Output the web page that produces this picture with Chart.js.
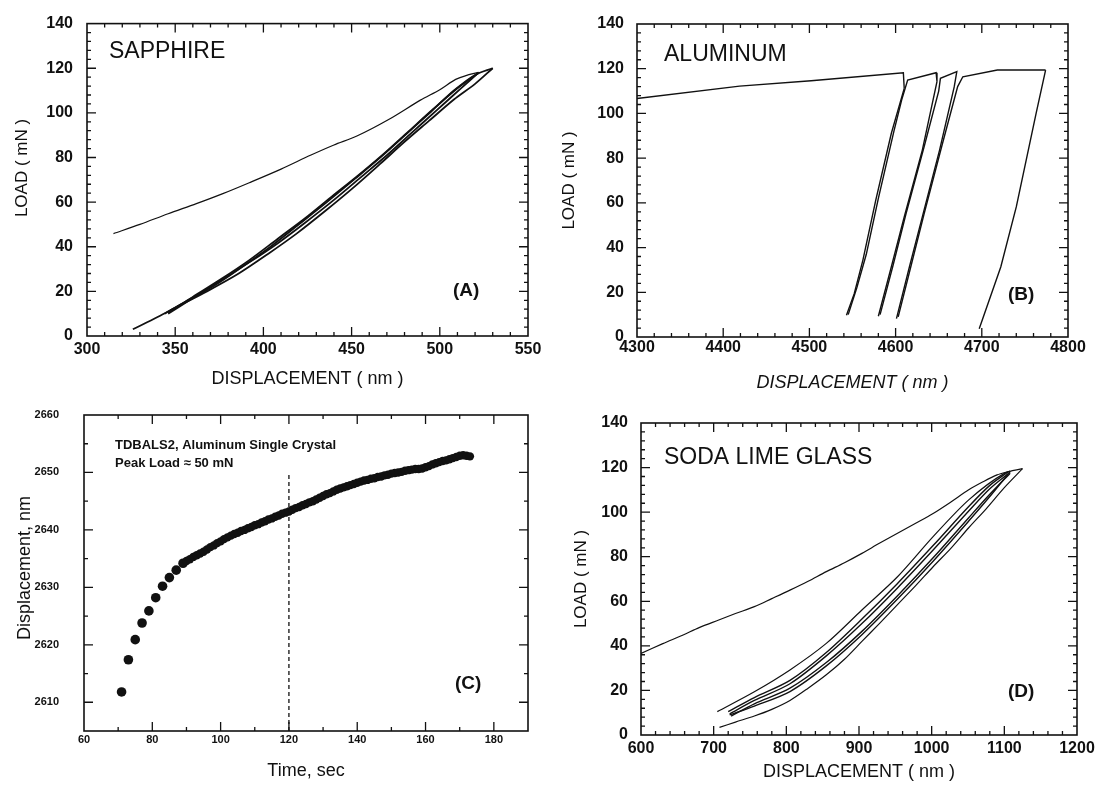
<!DOCTYPE html>
<html lang="en">
<head>
<meta charset="UTF-8" />
<title>Indentation panels</title>
<script src="https://cdn.jsdelivr.net/npm/chart.js"></script>
<style>
  body { margin: 0; background: #fff; }
  #wrap { position: relative; width: 1107px; height: 790px; }
  canvas { position: absolute; left: 0; top: 0; }
</style>
</head>
<body>
<div id="wrap">
  <canvas id="chartA" width="1107" height="790"></canvas>
  <canvas id="chartB" width="1107" height="790"></canvas>
  <canvas id="chartC" width="1107" height="790"></canvas>
  <canvas id="chartD" width="1107" height="790"></canvas>
</div>

<script>
  // (A) sapphire, displacement nm / load mN
  const sapLoadX = [315, 330, 346, 362, 377, 392, 410, 427, 440, 453, 471, 489, 500, 509, 516, 522];
  const sapLoadY = [45.9, 50, 54.8, 59.3, 63.8, 68.7, 74.8, 81.1, 85.6, 89.6, 97, 105.7, 110.4, 115, 117, 118.2];
  const sapUnload1X = [530, 520, 508, 494, 480, 466, 451, 435, 419, 403, 386, 368, 352, 340, 326];
  const sapUnload1Y = [120, 113, 106, 96.5, 87, 77, 66.5, 56, 46, 37, 28, 20, 13.5, 8.5, 3];
  const sapReload1X = [344, 356, 372, 388, 404, 420, 436, 452, 467, 481, 495, 508, 520, 530];
  const sapReload1Y = [10, 15.5, 22.5, 31, 40, 50, 60, 70.5, 80.5, 90.5, 100.5, 110, 117, 120];
  const sapUnload2X = [522, 512, 498, 484, 470, 455, 440, 424, 408, 392, 375, 360, 346];
  const sapUnload2Y = [118, 111, 101, 91, 81, 71, 61, 51, 41.5, 33, 24.5, 17, 10];
  const sapReload2X = [346, 360, 376, 392, 408, 424, 438, 453, 468, 482, 496, 510, 522];
  const sapReload2Y = [10.5, 17.5, 25.5, 34, 43.5, 53, 62, 71.5, 81.5, 91.5, 101.5, 111, 118];

  // (B) aluminum
  const alLoadX = [4300, 4419, 4502, 4609, 4610];
  const alLoadY = [106.7, 112.2, 114.6, 118.2, 111.2];
  const alUnload1X = [4610, 4595, 4577, 4562, 4552, 4543];
  const alUnload1Y = [111.2, 91, 61.2, 34.3, 19.4, 9.7];
  const alReload1X = [4545, 4555, 4566, 4580, 4598, 4607, 4614, 4647, 4648];
  const alReload1Y = [10, 22, 37, 62, 92, 106, 114.9, 118.2, 114.2];
  const alUnload2X = [4648, 4631, 4610, 4595, 4580];
  const alUnload2Y = [114.2, 83.6, 53.7, 31.3, 9.3];
  const alReload2X = [4582, 4597, 4612, 4633, 4650, 4652, 4671, 4668];
  const alReload2Y = [10, 32, 55, 85, 110, 115.7, 118.7, 111.9];
  const alUnload3X = [4668, 4651, 4631, 4616, 4601];
  const alUnload3Y = [111.9, 83.6, 53.7, 31.3, 8.2];
  const alReload3X = [4603, 4618, 4633, 4654, 4672, 4678, 4718, 4774];
  const alReload3Y = [9, 32, 55, 86, 112, 116.4, 119.4, 119.4];
  const alUnload4X = [4774, 4763, 4740, 4722, 4697];
  const alUnload4Y = [119.4, 100, 58.2, 31.3, 3.7];

  // (C) creep hold, time sec / displacement nm
  const creepT = [71, 73, 75, 77, 79, 81, 83, 85, 87, 89,
    90, 91, 92, 93, 94, 95, 96, 97, 98, 99, 100, 101, 102, 103, 104, 105, 106, 107, 108, 109,
    110, 111, 112, 113, 114, 115, 116, 117, 118, 119, 120, 121, 122, 123, 124, 125, 126, 127, 128, 129,
    130, 131, 132, 133, 134, 135, 136, 137, 138, 139, 140, 141, 142, 143, 144, 145, 146, 147, 148, 149,
    150, 151, 152, 153, 154, 155, 156, 157, 158, 159, 160, 161, 162, 163, 164, 165, 166, 167, 168, 169,
    170, 171, 172, 173];
  const creepD = [2611.8, 2617.4, 2620.9, 2623.8, 2625.9, 2628.2, 2630.2, 2631.7, 2633.0, 2634.2,
    2634.6, 2634.9, 2635.3, 2635.6, 2635.9, 2636.2, 2636.6, 2637.0, 2637.3, 2637.7,
    2638.0, 2638.4, 2638.7, 2639.0, 2639.3, 2639.5, 2639.8, 2640.0, 2640.3, 2640.5,
    2640.8, 2641.0, 2641.3, 2641.5, 2641.8, 2642.0, 2642.3, 2642.5, 2642.8, 2643.0,
    2643.2, 2643.5, 2643.8, 2644.0, 2644.3, 2644.5, 2644.8, 2645.0, 2645.3, 2645.6,
    2645.9, 2646.2, 2646.4, 2646.7, 2647.0, 2647.2, 2647.4, 2647.6, 2647.8, 2648.0,
    2648.2, 2648.4, 2648.6, 2648.7, 2648.9, 2649.0, 2649.2, 2649.3, 2649.5, 2649.6,
    2649.8, 2649.9, 2650.0, 2650.1, 2650.3, 2650.4, 2650.5, 2650.6, 2650.6, 2650.7,
    2650.9, 2651.1, 2651.4, 2651.6, 2651.8, 2652.0, 2652.1, 2652.3, 2652.5, 2652.7,
    2652.9, 2653.0, 2652.9, 2652.8];
  const holdMarkT = [120, 120];
  const holdMarkD = [2605, 2650];

  // (D) soda lime glass
  const glLoadX = [600, 630, 658, 680, 707, 730, 756, 780, 805, 830, 855, 880, 904, 928, 953, 978, 1002, 1027, 1051, 1070, 1090, 1108];
  const glLoadY = [36.6, 41, 44.9, 48.2, 51.6, 54.5, 57.6, 61.2, 65, 69, 73.3, 77.3, 81.5, 86, 90.5, 95, 99.4, 104.7, 110, 113.5, 116.7, 118.4];
  const glUnloadX = [1125, 1100, 1075, 1051, 1027, 1002, 978, 953, 928, 904, 880, 855, 830, 805, 780, 756, 730, 708];
  const glUnloadY = [119.5, 111, 101.5, 93, 84, 75.5, 67, 58.5, 50, 42, 34, 27, 21, 15.5, 11.5, 8.5, 5.8, 3.4];
  const glReloadX = [705, 756, 805, 855, 904, 953, 1002, 1051, 1100, 1125];
  const glReloadY = [10.5, 19.4, 29.2, 41.1, 56.1, 71, 89, 105.5, 117.4, 119.5];
  const glUp1X = [720, 756, 805, 855, 904, 953, 1002, 1051, 1080, 1105];
  const glUp1Y = [10.5, 16.8, 24.5, 37, 52, 68, 85, 102.5, 112, 118];
  const glDn1X = [1105, 1080, 1051, 1002, 953, 904, 855, 805, 756, 722];
  const glDn1Y = [117, 107, 96, 78, 61, 45, 31, 19.5, 13, 9];
  const glUp2X = [722, 756, 805, 855, 904, 953, 1002, 1051, 1080, 1108];
  const glUp2Y = [9.5, 15.5, 23, 35.5, 50, 66, 83, 100.5, 110.5, 118];
  const glDn2X = [1108, 1080, 1051, 1002, 953, 904, 855, 805, 756, 724];
  const glDn2Y = [117.5, 108, 97.5, 79.5, 62.5, 46.5, 32.5, 21, 14, 8.5];

  const FAMILY = "'Liberation Sans', Arial, sans-serif";
  const INK = '#111';

  function pts(xs, ys) {
    return xs.map((v, i) => ({ x: v, y: ys[i] }));
  }

  function line(xs, ys, w, tension) {
    return {
      data: pts(xs, ys), showLine: true, pointRadius: 0,
      borderColor: INK, borderWidth: w || 1.2,
      tension: tension === undefined ? 0.3 : tension
    };
  }

  // frame with inward major/minor ticks on all four sides
  const framePlugin = {
    id: 'frame',
    afterDatasetsDraw(chart, args, opts) {
      const { ctx, chartArea: a, scales: { x, y } } = chart;
      const xs = x.options.ticks.stepSize, ys = y.options.ticks.stepSize;
      const major = (v, s) => Math.abs(v / s - Math.round(v / s)) < 1e-6;
      ctx.save();
      ctx.strokeStyle = INK;
      ctx.lineWidth = 1.6;
      ctx.strokeRect(a.left, a.top, a.right - a.left, a.bottom - a.top);
      ctx.lineWidth = 1.3;
      ctx.beginPath();
      let n = Math.round((x.max - x.min) / opts.xMinor);
      for (let i = 1; i < n; i++) {
        const v = x.min + i * opts.xMinor;
        const p = x.getPixelForValue(v);
        const len = major(v, xs) ? 9 : 4;
        ctx.moveTo(p, a.bottom); ctx.lineTo(p, a.bottom - len);
        ctx.moveTo(p, a.top); ctx.lineTo(p, a.top + len);
      }
      n = Math.round((y.max - y.min) / opts.yMinor);
      for (let i = 1; i < n; i++) {
        const v = y.min + i * opts.yMinor;
        const p = y.getPixelForValue(v);
        const len = major(v, ys) ? 9 : 4;
        ctx.moveTo(a.left, p); ctx.lineTo(a.left + len, p);
        ctx.moveTo(a.right, p); ctx.lineTo(a.right - len, p);
      }
      ctx.stroke();
      ctx.restore();
    }
  };

  const notesPlugin = {
    id: 'notes',
    afterDraw(chart, args, opts) {
      const ctx = chart.ctx;
      ctx.save();
      ctx.fillStyle = INK;
      ctx.textBaseline = 'middle';
      ctx.textAlign = 'left';
      (opts.items || []).forEach(n => {
        ctx.font = n.font;
        ctx.fillText(n.text, n.x, n.y);
      });
      ctx.restore();
    }
  };

  function panel(id, p, datasets) {
    const a = p.area;
    const yW = a.l - p.yTitleX + p.yTitleSize * 0.6;
    const xH = p.xH;
    const titlePadB = xH - (p.xTitleY - a.b) - p.xTitleSize * 0.6;
    new Chart(document.getElementById(id), {
      type: 'scatter',
      data: { datasets: datasets },
      plugins: [framePlugin, notesPlugin],
      options: {
        responsive: false,
        animation: false,
        events: [],
        layout: { padding: { left: a.l - yW, top: a.t, right: 1107 - a.r, bottom: 790 - a.b - xH } },
        plugins: {
          legend: { display: false },
          tooltip: { enabled: false },
          frame: { xMinor: p.xMinor, yMinor: p.yMinor },
          notes: { items: p.notes }
        },
        scales: {
          x: {
            type: 'linear', min: p.xMin, max: p.xMax,
            ticks: {
              stepSize: p.xStep, includeBounds: false, autoSkip: false, maxRotation: 0,
              padding: p.xTickPad, color: INK, font: p.tickFont,
              callback: v => String(v)
            },
            grid: { display: false, drawTicks: false },
            border: { display: false },
            title: {
              display: true, text: p.xTitle, color: INK,
              font: { family: FAMILY, size: p.xTitleSize, style: p.xTitleStyle || 'normal' },
              padding: { top: 0, bottom: titlePadB }
            },
            afterFit: s => { s.height = xH; }
          },
          y: {
            type: 'linear', min: p.yMin, max: p.yMax,
            ticks: {
              stepSize: p.yStep, includeBounds: false, autoSkip: false,
              padding: p.yTickPad, color: INK, font: p.tickFont,
              callback: v => String(v)
            },
            grid: { display: false, drawTicks: false },
            border: { display: false },
            title: {
              display: true, text: p.yTitle, color: INK,
              font: { family: FAMILY, size: p.yTitleSize },
              padding: { top: 0, bottom: 0 }
            },
            afterFit: s => { s.width = yW; }
          }
        }
      }
    });
  }

  const bigTick = { family: FAMILY, size: 16, weight: 'bold' };
  const nameFont = '23px ' + FAMILY;
  const tagFont = 'bold 19px ' + FAMILY;

  panel('chartA', {
    area: { l: 87, t: 22, r: 528, b: 336 },
    xMin: 300, xMax: 550, xStep: 50, xMinor: 10,
    yMin: 0, yMax: 140, yStep: 20, yMinor: 4,
    tickFont: bigTick, xTickPad: 4, yTickPad: 14, xH: 60,
    xTitle: 'DISPLACEMENT ( nm )', xTitleSize: 18, xTitleY: 379,
    yTitle: '     LOAD ( mN )', yTitleSize: 17, yTitleX: 22,
    notes: [
      { text: 'SAPPHIRE', x: 109, y: 52, font: nameFont },
      { text: '(A)', x: 453, y: 291, font: tagFont }
    ]
  }, [
    line(sapLoadX, sapLoadY, 1.2),
    line(sapUnload1X, sapUnload1Y, 1.8),
    line(sapReload1X, sapReload1Y, 1.8),
    line(sapUnload2X, sapUnload2Y, 1.8),
    line(sapReload2X, sapReload2Y, 1.8)
  ]);

  panel('chartB', {
    area: { l: 637, t: 24, r: 1068, b: 337 },
    xMin: 4300, xMax: 4800, xStep: 100, xMinor: 20,
    yMin: 0, yMax: 140, yStep: 20, yMinor: 4,
    tickFont: bigTick, xTickPad: 1, yTickPad: 13, xH: 60,
    xTitle: 'DISPLACEMENT ( nm )', xTitleSize: 18, xTitleY: 383, xTitleStyle: 'italic',
    yTitle: 'LOAD ( mN )', yTitleSize: 17, yTitleX: 569,
    notes: [
      { text: 'ALUMINUM', x: 664, y: 55, font: nameFont },
      { text: '(B)', x: 1008, y: 295, font: tagFont }
    ]
  }, [
    line(alLoadX, alLoadY, 1.4, 0),
    line(alUnload1X, alUnload1Y, 1.4, 0),
    line(alReload1X, alReload1Y, 1.4, 0),
    line(alUnload2X, alUnload2Y, 1.4, 0),
    line(alReload2X, alReload2Y, 1.4, 0),
    line(alUnload3X, alUnload3Y, 1.4, 0),
    line(alReload3X, alReload3Y, 1.4, 0),
    line(alUnload4X, alUnload4Y, 1.4, 0)
  ]);

  panel('chartC', {
    area: { l: 84, t: 415, r: 528, b: 731 },
    xMin: 60, xMax: 190, xStep: 20, xMinor: 10,
    yMin: 2605, yMax: 2660, yStep: 10, yMinor: 5,
    tickFont: { family: FAMILY, size: 11, weight: 'bold' }, xTickPad: 2, yTickPad: 25, xH: 55,
    xTitle: 'Time, sec', xTitleSize: 18, xTitleY: 771,
    yTitle: '  Displacement, nm', yTitleSize: 18, yTitleX: 25,
    notes: [
      { text: 'TDBALS2, Aluminum Single Crystal', x: 115, y: 445, font: 'bold 13px ' + FAMILY },
      { text: 'Peak Load \u2248 50 mN', x: 115, y: 463, font: 'bold 13px ' + FAMILY },
      { text: '(C)', x: 455, y: 684, font: tagFont }
    ]
  }, [
    {
      data: pts(creepT, creepD), showLine: false,
      pointRadius: c => (c.raw && c.raw.x < 90 ? 4.8 : 4.2),
      backgroundColor: INK, borderWidth: 0
    },
    Object.assign(line(holdMarkT, holdMarkD, 1.3, 0), { borderDash: [4, 3] })
  ]);

  panel('chartD', {
    area: { l: 641, t: 423, r: 1077, b: 735 },
    xMin: 600, xMax: 1200, xStep: 100, xMinor: 20,
    yMin: 0, yMax: 140, yStep: 20, yMinor: 4,
    tickFont: bigTick, xTickPad: 4, yTickPad: 13, xH: 55,
    xTitle: 'DISPLACEMENT ( nm )', xTitleSize: 18, xTitleY: 772,
    yTitle: 'LOAD ( mN )', yTitleSize: 17, yTitleX: 581,
    notes: [
      { text: 'SODA LIME GLASS', x: 664, y: 458, font: nameFont },
      { text: '(D)', x: 1008, y: 692, font: tagFont }
    ]
  }, [
    line(glLoadX, glLoadY, 1.2),
    line(glUnloadX, glUnloadY, 1.2),
    line(glReloadX, glReloadY, 1.2),
    line(glUp1X, glUp1Y, 1.4),
    line(glDn1X, glDn1Y, 1.4),
    line(glUp2X, glUp2Y, 1.4),
    line(glDn2X, glDn2Y, 1.4)
  ]);
</script>
</body>
</html>
